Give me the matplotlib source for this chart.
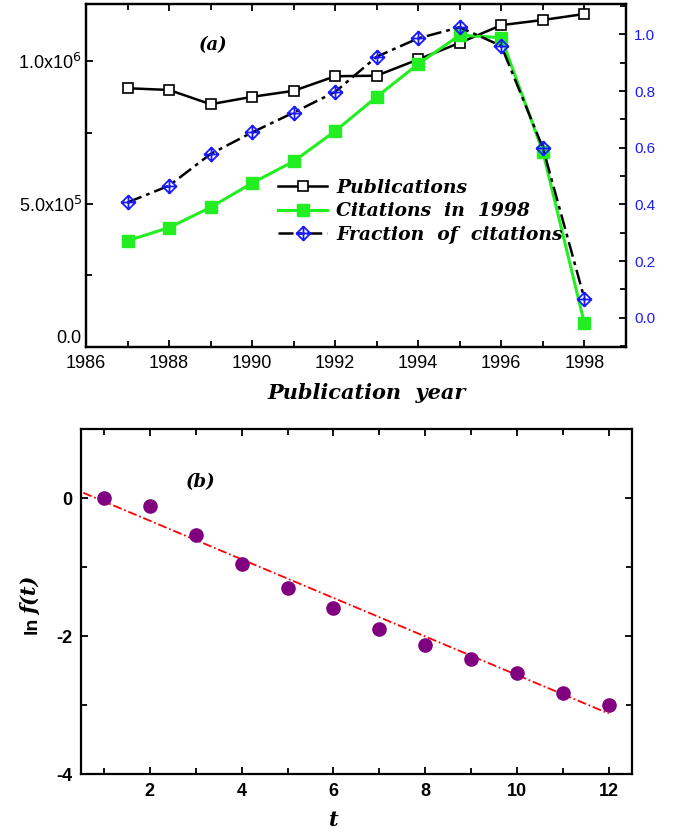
import numpy as np
import matplotlib
matplotlib.use("Agg")
import matplotlib.pyplot as plt
from matplotlib.path import Path
from matplotlib.ticker import MultipleLocator, FixedLocator

plt.rcParams['axes.unicode_minus'] = False

# ---------------- data ----------------
years = [1987, 1988, 1989, 1990, 1991, 1992, 1993, 1994, 1995, 1996, 1997, 1998]
publications = [905e3, 899e3, 849e3, 875e3, 896e3, 947e3, 949e3, 1006e3, 1064e3, 1126e3, 1144e3, 1165e3]
citations_1998 = [371e3, 417e3, 488e3, 573e3, 649e3, 755e3, 875e3, 990e3, 1091e3, 1082e3, 683e3, 82e3]
fraction_citations = [0.407, 0.466, 0.578, 0.654, 0.724, 0.797, 0.921, 0.986, 1.025, 0.959, 0.600, 0.068]

t_vals = [1, 2, 3, 4, 5, 6, 7, 8, 9, 10, 11, 12]
ln_f = [0.0, -0.106, -0.527, -0.952, -1.306, -1.596, -1.901, -2.128, -2.331, -2.534, -2.815, -2.994]
fit_t = [0.55, 12.0]
fit_y = [0.08, -3.12]

left_ticks = [0.0, 5e5, 1e6]
left_ticklabels = ['0.0', r'5.0x10$^5$', r'1.0x10$^6$']
right_ticks = [0.0, 0.2, 0.4, 0.6, 0.8, 1.0]
year_ticks = [1986, 1988, 1990, 1992, 1994, 1996, 1998]

# ---------------- style ----------------
sans = ['Liberation Sans', 'DejaVu Sans']
serif_bi = dict(family='DejaVu Serif', style='italic', weight='bold')

fig = plt.figure(figsize=(6.73, 8.33), dpi=100)

# diamond with plus marker
verts = [(0, 1), (1, 0), (0, -1), (-1, 0), (0, 1), (0, 1), (0, -1), (-1, 0), (1, 0)]
codes = [Path.MOVETO, Path.LINETO, Path.LINETO, Path.LINETO, Path.CLOSEPOLY,
         Path.MOVETO, Path.LINETO, Path.MOVETO, Path.LINETO]
diamond_plus = Path(verts, codes)

# ---------------- panel (a) ----------------
ax = fig.add_axes([0.1278, 0.5838, 0.8022, 0.4114])
ax2 = ax.twinx()

l1, = ax.plot(years, publications, color='black', lw=1.8, marker='s', ms=7.5,
              mfc='white', mec='black', mew=1.2, label='Publications')
l2, = ax.plot(years, citations_1998, color='#22ee22', lw=2.2, marker='s', ms=8,
              mfc='#22ee22', mec='#22ee22', label='Citations  in  1998')
l3, = ax2.plot(years, fraction_citations, color='black', lw=1.8,
               linestyle=(0, (6, 2, 1.5, 2)), marker=diamond_plus, ms=10,
               mfc='none', mec='#1a1aff', mew=1.3, label='Fraction  of  citations')

ax.set_xlim(1986, 1999)
ax.set_ylim(0, 1.2e6)
ax2.set_ylim(-0.102, 1.107)

ax.xaxis.set_major_locator(FixedLocator(year_ticks))
ax.xaxis.set_minor_locator(MultipleLocator(1))
ax.yaxis.set_major_locator(FixedLocator(left_ticks))
ax.set_yticklabels(left_ticklabels)
ax.yaxis.set_minor_locator(MultipleLocator(2.5e5))
ax2.yaxis.set_major_locator(FixedLocator(right_ticks))
ax2.yaxis.set_minor_locator(MultipleLocator(0.1))

for a in (ax, ax2):
    for s in a.spines.values():
        s.set_linewidth(1.6)
ax.tick_params(axis='both', which='both', direction='in', top=True, width=1.3)
ax.tick_params(axis='both', which='major', length=5)
ax.tick_params(axis='both', which='minor', length=4)
ax.tick_params(axis='x', labelsize=13, pad=6)
ax.tick_params(axis='y', labelsize=13, pad=3)
ax2.tick_params(axis='y', which='both', direction='in', width=1.3, labelsize=11,
                labelcolor='#1a1aff', pad=6)
ax2.tick_params(axis='y', which='major', length=5)
ax2.tick_params(axis='y', which='minor', length=4)
for lab in ax.get_xticklabels() + ax.get_yticklabels() + ax2.get_yticklabels():
    lab.set_family(sans)
ax.get_yticklabels()[0].set_va('bottom')

ax.set_xlabel('Publication  year', fontsize=15, **serif_bi)
ax.xaxis.set_label_coords(0.52, -0.105)
ax.text(0.21, 0.88, '(a)', transform=ax.transAxes, fontsize=13, va='center', **serif_bi)

leg = ax2.legend(handles=[l1, l2, l3], loc='upper left', bbox_to_anchor=(0.325, 0.54),
                 frameon=False, handlelength=2.6, handletextpad=0.5, labelspacing=0.3,
                 prop=dict(family='DejaVu Serif', style='italic', weight='bold', size=13.5),
                 numpoints=1)

# ---------------- panel (b) ----------------
bx = fig.add_axes([0.1204, 0.0705, 0.8182, 0.4141])
bx.plot(fit_t, fit_y, color='red', lw=1.3, linestyle=(0, (5, 1.5, 1, 1.5)))
bx.plot(t_vals, ln_f, linestyle='none', marker='o', ms=9.5, color='#800080')
bx.set_xlim(0.5, 12.5)
bx.set_ylim(-4, 1)
bx.xaxis.set_major_locator(MultipleLocator(2))
bx.xaxis.set_minor_locator(MultipleLocator(1))
bx.yaxis.set_major_locator(FixedLocator([-4, -2, 0]))
bx.yaxis.set_minor_locator(MultipleLocator(1))
for s in bx.spines.values():
    s.set_linewidth(1.6)
bx.tick_params(axis='both', which='both', direction='in', top=True, right=True, width=1.3)
bx.tick_params(axis='both', which='major', length=5)
bx.tick_params(axis='both', which='minor', length=4)
bx.tick_params(axis='both', labelsize=13, pad=6)
for lab in bx.get_xticklabels() + bx.get_yticklabels():
    lab.set_family(sans)
    lab.set_weight('bold')

bx.set_xlabel('t', fontsize=15, **serif_bi)
bx.xaxis.set_label_coords(0.459, -0.105)
fig.text(0.047, 0.2497, 'ln', rotation=90, fontsize=14, family=sans, weight='bold',
         ha='center', va='center')
fig.text(0.047, 0.285, 'f(t)', rotation=90, fontsize=15, ha='center', va='center', **serif_bi)
bx.text(0.19, 0.847, '(b)', transform=bx.transAxes, fontsize=13, va='center', **serif_bi)

fig.savefig('out.png', dpi=100)
